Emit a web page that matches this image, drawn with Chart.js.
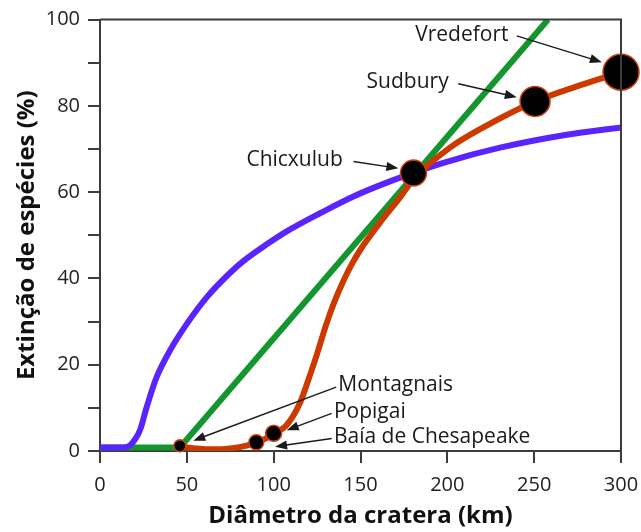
<!DOCTYPE html>
<html>
<head>
<meta charset="utf-8">
<script src="https://cdn.jsdelivr.net/npm/chart.js@4.4.1/dist/chart.umd.min.js"></script>
<style>
  html, body { margin: 0; padding: 0; background: #fff; }
</style>
</head>
<body>
<canvas id="chart" width="641" height="532"></canvas>
<script>
// curves (diameter km -> extinction %)
const blueX = [0, 13, 17.3, 20, 23, 26.9, 32.6, 40.3, 49.9, 61.4, 73.9, 82.5, 96, 107.5, 126.7, 145.9, 165.1, 180, 197.7, 230.3, 268.7, 300];
const blueY = [0.8, 0.8, 1.3, 2.6, 4.8, 10.2, 17.1, 23.3, 29.4, 35.6, 40.9, 44.0, 47.9, 50.9, 55.1, 59.0, 62.2, 64.4, 66.8, 70.3, 73.3, 75.0];

const greenX = [0, 46, 258];
const greenY = [0.8, 0.8, 100];

const redX = [46, 55, 65, 75, 85, 90, 95, 100, 107, 115, 120, 125, 130, 135, 140, 145, 150, 161, 173, 181, 201.5, 220.7, 250.5, 274.5, 300];
const redY = [1.0, 0.6, 0.4, 0.6, 1.3, 2.0, 2.8, 4.1, 5.8, 11, 16.5, 22.5, 29, 34.6, 39.3, 43.3, 46.7, 52.8, 58.9, 63.2, 70.3, 75.0, 81.0, 84.5, 87.8];

const craters = ['Montagnais', 'Baía de Chesapeake', 'Popigai', 'Chicxulub', 'Sudbury', 'Vredefort'];
const craterX = [46, 90, 100, 180.5, 250.5, 300];
const craterY = [1.2, 2.0, 4.1, 64.4, 81.0, 87.8];
const craterR = [6, 7.5, 8, 13, 15, 18];

// label text position and arrow (from -> to), in data units
const notes = [
  { text: 'Vredefort',          tx: 181.5, ty: 96.3, ax: [240, 96.2], bx: [289, 90.1] },
  { text: 'Sudbury',            tx: 153.5, ty: 85.5, ax: [206.3, 85.1], bx: [240, 82.0] },
  { text: 'Chicxulub',          tx: 84.3, ty: 67.5, ax: [146, 67.1], bx: [171.8, 65.5] },
  { text: 'Montagnais',         tx: 137.2, ty: 15.2, ax: [136, 14.8], bx: [53.7, 2.4] },
  { text: 'Popigai',            tx: 134.7, ty: 9.1, ax: [133.4, 8.7], bx: [107.5, 4.8] },
  { text: 'Baía de Chesapeake', tx: 134.7, ty: 3.3, ax: [133.4, 2.9], bx: [100.8, 1.0] }
];

const toXY = (xs, ys) => xs.map((x, i) => ({ x: x, y: ys[i] }));

const AXIS = '#3c3c3c';

const framePlugin = {
  id: 'frame',
  afterDatasetsDraw(chart) {
    const { ctx, chartArea: a, scales } = chart;
    ctx.save();
    ctx.strokeStyle = AXIS;
    ctx.lineWidth = 2;
    ctx.beginPath();
    ctx.moveTo(a.left, a.top);
    ctx.lineTo(a.right, a.top);
    ctx.lineTo(a.right, a.bottom);
    ctx.stroke();

    ctx.fillStyle = '#1a1a1a';
    ctx.strokeStyle = '#1a1a1a';
    ctx.font = '21px "Open Sans", sans-serif';
    ctx.textBaseline = 'middle';
    ctx.textAlign = 'left';
    notes.forEach(n => {
      ctx.fillText(n.text, scales.x.getPixelForValue(n.tx), scales.y.getPixelForValue(n.ty));
      const x0 = scales.x.getPixelForValue(n.ax[0]), y0 = scales.y.getPixelForValue(n.ax[1]);
      const x1 = scales.x.getPixelForValue(n.bx[0]), y1 = scales.y.getPixelForValue(n.bx[1]);
      const ang = Math.atan2(y1 - y0, x1 - x0);
      const hl = 12, hw = 4.5;
      ctx.lineWidth = 1.4;
      ctx.beginPath();
      ctx.moveTo(x0, y0);
      ctx.lineTo(x1 - Math.cos(ang) * hl * 0.8, y1 - Math.sin(ang) * hl * 0.8);
      ctx.stroke();
      ctx.beginPath();
      ctx.moveTo(x1, y1);
      ctx.lineTo(x1 - Math.cos(ang) * hl - Math.sin(ang) * hw, y1 - Math.sin(ang) * hl + Math.cos(ang) * hw);
      ctx.lineTo(x1 - Math.cos(ang) * hl + Math.sin(ang) * hw, y1 - Math.sin(ang) * hl - Math.cos(ang) * hw);
      ctx.closePath();
      ctx.fill();
    });
    ctx.restore();
  }
};

Chart.defaults.font.family = '"Open Sans", sans-serif';
Chart.defaults.color = '#222';

new Chart(document.getElementById('chart'), {
  type: 'line',
  data: {
    datasets: [
      {
        label: 'Crateras',
        data: toXY(craterX, craterY),
        showLine: false,
        pointRadius: craterR,
        pointHoverRadius: craterR,
        pointBackgroundColor: '#000',
        pointBorderColor: '#d04010',
        pointBorderWidth: 1.5,
        clip: false
      },
      {
        label: 'vermelho',
        data: toXY(redX, redY),
        borderColor: '#cc3a00',
        borderWidth: 6,
        pointRadius: 0,
        cubicInterpolationMode: 'monotone'
      },
      {
        label: 'azul',
        data: toXY(blueX, blueY),
        borderColor: '#5a24ff',
        borderWidth: 6,
        pointRadius: 0,
        cubicInterpolationMode: 'monotone'
      },
      {
        label: 'verde',
        data: toXY(greenX, greenY),
        borderColor: '#14962f',
        borderWidth: 6,
        pointRadius: 0,
        tension: 0
      }
    ]
  },
  options: {
    responsive: false,
    animation: false,
    events: [],
    layout: { padding: { left: 0, right: 20, top: 17, bottom: 0 } },
    plugins: { legend: { display: false }, tooltip: { enabled: false } },
    scales: {
      x: {
        type: 'linear',
        min: 0,
        max: 300,
        afterFit: s => {
          s.height = 81;
          s.paddingLeft = 0;
          s.paddingRight = 0;
        },
        border: { display: true, color: AXIS, width: 2 },
        grid: { display: true, drawOnChartArea: false, drawTicks: true, tickLength: 12, color: AXIS, lineWidth: 2 },
        ticks: { stepSize: 50, padding: 10, color: '#222', font: { size: 20 } },
        title: {
          display: true,
          text: 'Diâmetro da cratera (km)',
          color: '#111',
          font: { size: 24, weight: 'bold' },
          padding: { top: 0, bottom: 1 }
        }
      },
      y: {
        type: 'linear',
        min: 0,
        max: 100,
        afterFit: s => {
          s.width = 100;
          s.paddingTop = 0;
          s.paddingBottom = 0;
        },
        border: { display: true, color: AXIS, width: 2 },
        grid: { display: true, drawOnChartArea: false, drawTicks: true, tickLength: 12, color: AXIS, lineWidth: 2 },
        ticks: {
          stepSize: 10,
          autoSkip: false,
          padding: 8,
          color: '#222',
          font: { size: 20 },
          callback: v => (v % 20 === 0 ? v : '')
        },
        title: {
          display: true,
          text: 'Extinção de espécies (%)',
          color: '#111',
          font: { size: 24, weight: 'bold' },
          padding: { top: 13, bottom: 0 }
        }
      }
    }
  },
  plugins: [framePlugin]
});
</script>
</body>
</html>
